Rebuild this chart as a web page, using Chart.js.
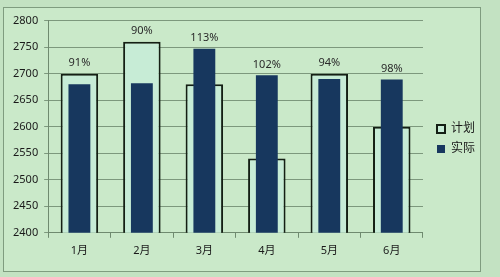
<!DOCTYPE html>
<html>
<head>
<meta charset="utf-8">
<script src="https://cdn.jsdelivr.net/npm/chart.js@4/dist/chart.umd.min.js"></script>
<style>
  html, body { margin: 0; padding: 0; background: #c3e2c2; }
  #frame {
    position: absolute; left: 3px; top: 7px;
    width: 476px; height: 263px;
    border: 1px solid #7f9c7f;
    background: #cae9c9;
  }
  canvas { display: block; }
</style>
</head>
<body>
<div id="frame"><canvas id="myChart" width="476" height="263"></canvas></div>
<script>
let months = ["1月", "2月", "3月", "4月", "5月", "6月"];
let planValues = [2700, 2760, 2680, 2540, 2700, 2600];
let actualValues = [2680, 2682, 2747, 2697, 2690, 2689];
let rateLabels = ["91%", "90%", "113%", "102%", "94%", "98%"];

let textFont = "'Noto Sans', 'Noto Sans CJK SC', sans-serif";

// percentage above the taller of the two bars
let rateLabelPlugin = {
  id: "rateLabels",
  afterDatasetsDraw(chart) {
    let ctx = chart.ctx;
    let x = chart.scales.x;
    let y = chart.scales.y;
    ctx.save();
    ctx.font = "11px " + textFont;
    ctx.fillStyle = "#2b2b2b";
    ctx.textAlign = "center";
    ctx.textBaseline = "bottom";
    for (let i = 0; i < months.length; i++) {
      let top = Math.max(planValues[i], actualValues[i]);
      ctx.fillText(rateLabels[i], x.getPixelForValue(i), y.getPixelForValue(top) - 5);
    }
    ctx.restore();
  },
};

// push the legend a bit away from the plot
let legendShift = {
  id: "legendShift",
  afterLayout(chart) {
    chart.legend.left += 6;
    chart.legend.right += 6;
  },
};

const ctx = document.getElementById("myChart");

new Chart(ctx, {
  type: "bar",
  data: {
    labels: months,
    datasets: [
      {
        label: "计划",
        data: planValues,
        backgroundColor: "#c7ecd6",
        borderColor: "#141f14",
        borderWidth: 2,
        borderSkipped: "start",
        barPercentage: 0.6,
        categoryPercentage: 1,
        grouped: false,
        order: 2,
      },
      {
        label: "实际",
        data: actualValues,
        backgroundColor: "#17375e",
        borderWidth: 0,
        barPercentage: 0.35,
        categoryPercentage: 1,
        grouped: false,
        order: 1,
      },
    ],
  },
  options: {
    responsive: false,
    animation: false,
    layout: {
      padding: { top: 7, left: 3, right: 1, bottom: 8 },
    },
    plugins: {
      tooltip: { enabled: false },
      legend: {
        position: "right",
        labels: {
          boxWidth: 8,
          boxHeight: 8,
          padding: 8,
          color: "#1a1a1a",
          font: { size: 12, family: textFont },
          sort: (a, b) => a.datasetIndex - b.datasetIndex,
        },
      },
    },
    scales: {
      x: {
        grid: {
          drawOnChartArea: false,
          tickLength: 5,
          color: "#6f8a6f",
        },
        border: { color: "#6f8a6f" },
        ticks: {
          color: "#1a1a1a",
          font: { size: 11, family: textFont },
          padding: 6,
        },
      },
      y: {
        min: 2400,
        max: 2800,
        grid: {
          color: "#7d987d",
          tickLength: 4,
        },
        border: { color: "#6f8a6f" },
        ticks: {
          stepSize: 50,
          color: "#1a1a1a",
          font: { size: 11, family: textFont },
          padding: 6,
          callback: (value) => String(value),
        },
      },
    },
  },
  plugins: [rateLabelPlugin, legendShift],
});
</script>
</body>
</html>
